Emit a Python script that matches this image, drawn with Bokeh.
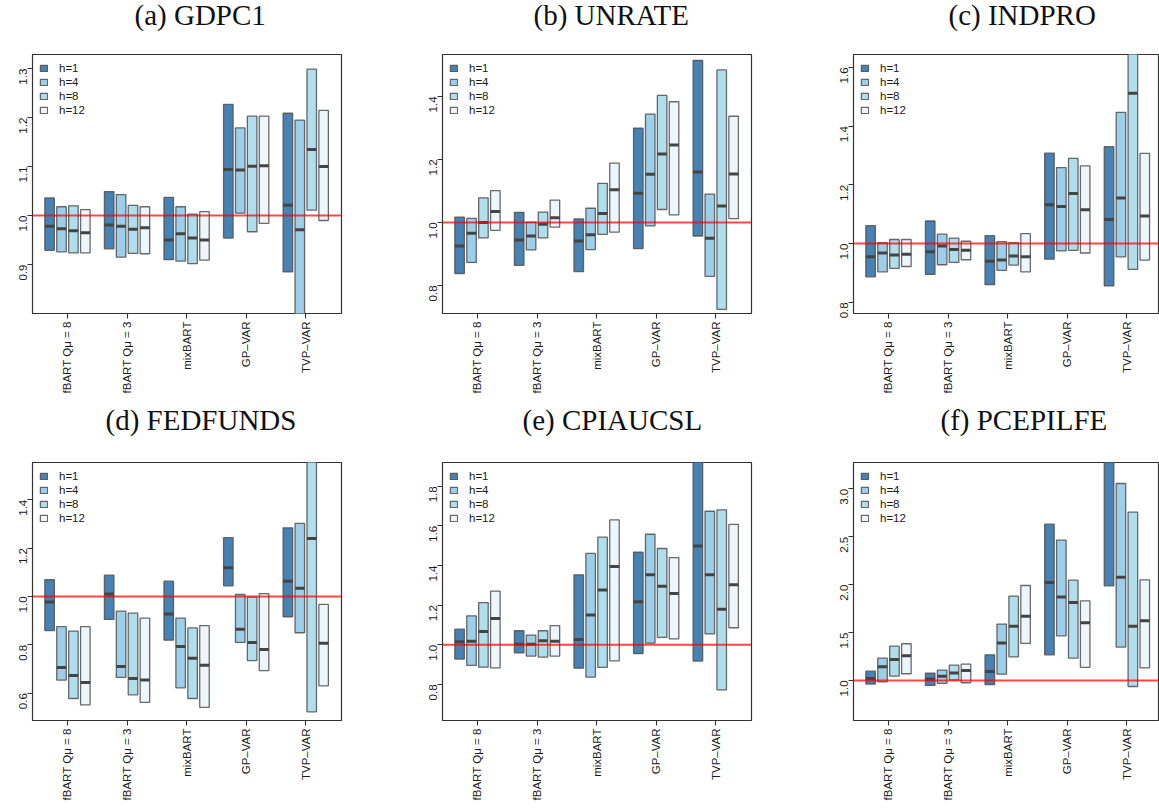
import math
from bokeh.plotting import figure
from bokeh.models import ColumnDataSource, FixedTicker, PrintfTickFormatter, Span, Range1d
from bokeh.layouts import column, row
from bokeh.embed import file_html
from bokeh.resources import INLINE

models = ["fBART Q\u03bc = 8", "fBART Q\u03bc = 3", "mixBART", "GP\u2013VAR", "TVP\u2013VAR"]
horizons = ["h=1", "h=4", "h=8", "h=12"]

# ---- (a) GDPC1 : rows = horizons (h=1,4,8,12), cols = models
gdpc1_lo = [[0.929, 0.932, 0.910, 0.954, 0.885], [0.926, 0.915, 0.907, 1.005, 0.780],
            [0.924, 0.923, 0.902, 0.967, 1.011], [0.924, 0.922, 0.909, 0.984, 0.990]]
gdpc1_md = [[0.978, 0.981, 0.950, 1.094, 1.021], [0.973, 0.978, 0.963, 1.093, 0.971],
            [0.969, 0.972, 0.954, 1.101, 1.135], [0.965, 0.975, 0.950, 1.102, 1.100]]
gdpc1_hi = [[1.036, 1.049, 1.037, 1.227, 1.209], [1.018, 1.043, 1.018, 1.179, 1.195],
            [1.020, 1.021, 1.003, 1.203, 1.299], [1.012, 1.018, 1.008, 1.203, 1.215]]
gdpc1_ticks = [0.9, 1.0, 1.1, 1.2, 1.3]

# ---- (b) UNRATE
unrate_lo = [[0.838, 0.864, 0.844, 0.917, 0.957], [0.873, 0.913, 0.914, 0.989, 0.829],
             [0.951, 0.951, 0.962, 1.041, 0.724], [0.975, 0.985, 0.969, 1.024, 1.012]]
unrate_md = [[0.925, 0.944, 0.941, 1.093, 1.160], [0.966, 0.957, 0.961, 1.153, 0.950],
             [1.000, 0.994, 1.028, 1.217, 1.052], [1.035, 1.015, 1.104, 1.246, 1.154]]
unrate_hi = [[1.017, 1.032, 1.011, 1.299, 1.514], [1.013, 1.001, 1.045, 1.344, 1.090],
             [1.078, 1.033, 1.124, 1.403, 1.484], [1.101, 1.071, 1.188, 1.383, 1.337]]
unrate_ticks = [0.8, 1.0, 1.2, 1.4]

# ---- (c) INDPRO
indpro_lo = [[0.887, 0.895, 0.860, 0.947, 0.856], [0.904, 0.928, 0.909, 0.975, 0.955],
             [0.916, 0.936, 0.927, 0.977, 0.912], [0.922, 0.945, 0.904, 0.968, 0.944]]
indpro_md = [[0.955, 0.972, 0.940, 1.132, 1.082], [0.968, 0.992, 0.944, 1.126, 1.155],
             [0.961, 0.980, 0.958, 1.171, 1.512], [0.964, 0.977, 0.955, 1.115, 1.094]]
indpro_hi = [[1.061, 1.077, 1.027, 1.308, 1.330], [1.003, 1.032, 1.007, 1.259, 1.447],
             [1.014, 1.019, 1.003, 1.290, 1.700], [1.014, 1.008, 1.034, 1.265, 1.307]]
indpro_ticks = [0.8, 1.0, 1.2, 1.4, 1.6]

# ---- (d) FEDFUNDS
fedfunds_lo = [[0.859, 0.905, 0.819, 1.044, 0.916], [0.654, 0.665, 0.622, 0.810, 0.850],
               [0.578, 0.593, 0.578, 0.735, 0.523], [0.552, 0.562, 0.541, 0.693, 0.630]]
fedfunds_md = [[0.977, 1.010, 0.927, 1.119, 1.063], [0.706, 0.710, 0.793, 0.864, 1.034],
               [0.673, 0.661, 0.744, 0.810, 1.240], [0.644, 0.655, 0.716, 0.781, 0.806]]
fedfunds_hi = [[1.069, 1.088, 1.063, 1.243, 1.284], [0.875, 0.939, 0.910, 1.008, 1.302],
               [0.857, 0.931, 0.870, 0.997, 1.600], [0.875, 0.910, 0.879, 1.012, 0.967]]
fedfunds_ticks = [0.6, 0.8, 1.0, 1.2, 1.4]

# ---- (e) CPIAUCSL
cpi_lo = [[0.928, 0.960, 0.882, 0.956, 0.918], [0.896, 0.943, 0.837, 1.008, 1.055],
          [0.887, 0.938, 0.886, 1.037, 0.773], [0.884, 0.943, 0.919, 1.030, 1.086]]
cpi_md = [[1.015, 1.003, 1.027, 1.217, 1.499], [1.018, 1.003, 1.150, 1.353, 1.353],
          [1.067, 1.020, 1.277, 1.296, 1.180], [1.133, 1.018, 1.395, 1.259, 1.303]]
cpi_hi = [[1.079, 1.071, 1.353, 1.467, 1.950], [1.146, 1.049, 1.461, 1.558, 1.674],
          [1.213, 1.071, 1.543, 1.486, 1.681], [1.271, 1.097, 1.630, 1.440, 1.608]]
cpi_ticks = [0.8, 1.0, 1.2, 1.4, 1.6, 1.8]

# ---- (f) PCEPILFE
pce_lo = [[0.962, 0.948, 0.958, 1.268, 1.988], [0.986, 0.969, 1.066, 1.466, 1.348],
          [1.045, 1.007, 1.247, 1.233, 0.937], [1.070, 0.976, 1.386, 1.136, 1.132]]
pce_md = [[1.021, 1.014, 1.094, 2.023, 3.350], [1.143, 1.045, 1.390, 1.870, 2.078],
          [1.219, 1.077, 1.567, 1.814, 1.567], [1.257, 1.104, 1.671, 1.602, 1.623]]
pce_hi = [[1.097, 1.077, 1.268, 2.631, 3.800], [1.233, 1.108, 1.588, 2.464, 3.056],
          [1.358, 1.160, 1.880, 2.047, 2.757], [1.383, 1.170, 1.991, 1.831, 2.050]]
pce_ticks = [1.0, 1.5, 2.0, 2.5, 3.0]

# ---- styling
H_COLORS = ["#4682B4", "#9ECFEA", "#B0DEEC", "#EEF6FD"]
OFFSETS = [-0.3, -0.1, 0.1, 0.3]
HALF_W = 0.08
TEXT_COLOR = "#1a1a1a"
BORDER_TOP = 110


def make_panel(title, lo, md, hi, yrange, yticks, width, height, frame_top, bbot, bleft,
               bright, x_end, title_offset, title_standoff):
    shift_up = BORDER_TOP - frame_top
    p = figure(width=width, height=height + shift_up, output_backend="svg",
               toolbar_location=None,
               x_range=Range1d(0.413, x_end), y_range=Range1d(*yrange),
               min_border_top=BORDER_TOP, min_border_bottom=bbot, min_border_left=bleft,
               min_border_right=bright, background_fill_color="white",
               border_fill_alpha=0, margin=(-shift_up, 0, 0, 0))
    p.grid.visible = False
    p.outline_line_color = "#333333"
    p.outline_line_width = 1.2
    frame_h = height + shift_up - BORDER_TOP - bbot

    for k in range(4):
        xs = [i + 1 + OFFSETS[k] for i in range(len(models))]
        src = ColumnDataSource(dict(
            left=[x - HALF_W for x in xs], right=[x + HALF_W for x in xs],
            bottom=lo[k], top=hi[k], med=md[k]))
        p.quad(left="left", right="right", bottom="bottom", top="top", source=src,
               fill_color=H_COLORS[k], line_color="#505050", line_alpha=0.85,
               line_width=1.3, legend_label=horizons[k])
        p.segment(x0="left", x1="right", y0="med", y1="med", source=src,
                  line_color="#444444", line_width=3)

    p.add_layout(Span(location=1.0, dimension="width", line_color="#FF0000",
                      line_alpha=0.72, line_width=2))

    # x axis
    p.xaxis.ticker = FixedTicker(ticks=[i + 1 for i in range(len(models))])
    p.xaxis.major_label_overrides = {i + 1: m for i, m in enumerate(models)}
    p.xaxis.major_label_orientation = math.pi / 2
    # y axis
    p.yaxis.ticker = FixedTicker(ticks=yticks)
    p.yaxis.formatter = PrintfTickFormatter(format="%.1f")
    p.yaxis.major_label_orientation = math.pi / 2
    for ax in (p.xaxis, p.yaxis):
        ax.axis_line_color = None
        ax.major_tick_line_color = "#333333"
        ax.major_tick_line_width = 1.1
        ax.major_tick_out = 5
        ax.major_tick_in = 0
        ax.minor_tick_line_color = None
        ax.major_label_text_font = "Liberation Sans"
        ax.major_label_text_font_size = "11.5px"
        ax.major_label_text_color = TEXT_COLOR
    p.xaxis.major_label_standoff = 3
    p.yaxis.major_label_standoff = 4

    # title
    p.title.text = title
    p.title.text_font = "Liberation Serif"
    p.title.text_font_style = "normal"
    p.title.text_font_size = "29px"
    p.title.text_color = "#111111"
    p.title.align = "left"
    p.title.vertical_align = "bottom"
    p.title.offset = title_offset
    p.title.standoff = title_standoff

    # legend
    lg = p.legend[0]
    lg.location = (7, frame_h - 62)
    lg.margin = 0
    lg.padding = 7
    lg.glyph_width = 9
    lg.glyph_height = 8
    lg.label_standoff = 11
    lg.label_height = 13
    lg.spacing = 1
    lg.label_text_font = "Liberation Sans"
    lg.label_text_font_size = "11.5px"
    lg.label_text_color = TEXT_COLOR
    lg.border_line_color = None
    lg.background_fill_alpha = 0
    return p


pa = make_panel("(a) GDPC1", gdpc1_lo, gdpc1_md, gdpc1_hi, (0.800, 1.329), gdpc1_ticks,
                411, 400, 54, 87, 32, 70, 5.6, 102, 48)
pb = make_panel("(b) UNRATE", unrate_lo, unrate_md, unrate_hi, (0.711, 1.533), unrate_ticks,
                411, 400, 54, 87, 31, 71, 5.6, 91, 48)
pc = make_panel("(c) INDPRO", indpro_lo, indpro_md, indpro_hi, (0.762, 1.644), indpro_ticks,
                337, 400, 54, 87, 31, 0, 5.547, 95, 48)
pd = make_panel("(d) FEDFUNDS", fedfunds_lo, fedfunds_md, fedfunds_hi, (0.487, 1.554),
                fedfunds_ticks, 411, 409, 62, 89, 32, 70, 5.6, 73, 54)
pe = make_panel("(e) CPIAUCSL", cpi_lo, cpi_md, cpi_hi, (0.618, 1.920), cpi_ticks,
                411, 409, 62, 89, 31, 71, 5.6, 80, 54)
pf = make_panel("(f) PCEPILFE", pce_lo, pce_md, pce_hi, (0.582, 3.275), pce_ticks,
                337, 409, 62, 89, 31, 0, 5.547, 87, 54)

layout = column(row(pa, pb, pc), row(pd, pe, pf))
open("out.html", "w").write(file_html(layout, INLINE))
